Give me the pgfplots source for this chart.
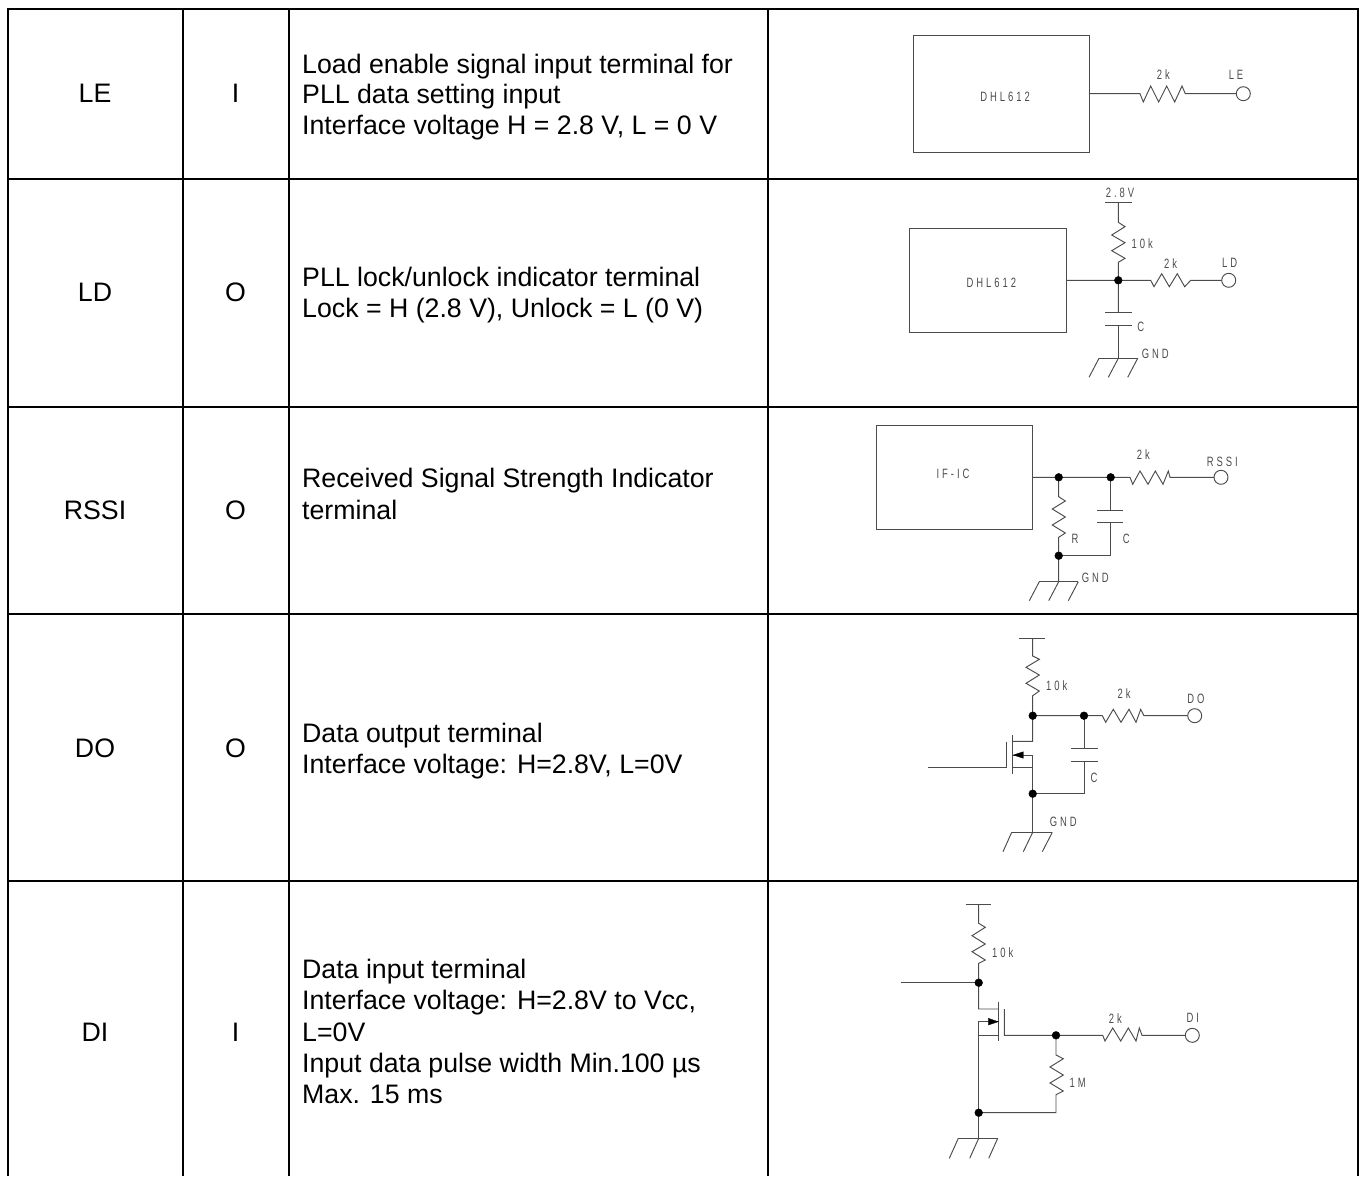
\documentclass[border=0pt]{standalone}
\usepackage{fontspec}
\setmainfont{Liberation Sans}
\newfontfamily\cad[FakeStretch=0.7,LetterSpace=22]{Liberation Sans}
\usepackage{pgfplots}
\pgfplotsset{compat=1.18}
\definecolor{wirecol}{gray}{0.3}
\pgfplotsset{
  grid line/.style={black,line width=2pt,line cap=rect},
  wire/.style={wirecol,line width=0.95pt,line join=miter},
  dot/.style={only marks,mark=*,mark size=3.9pt,mark options={fill=black,draw=black}},
  term/.style={only marks,mark=*,mark size=7pt,mark options={fill=white,draw=wirecol,line width=0.95pt}},
  head/.style={black,fill=black,line width=0.3pt},
}
\newcommand{\wire}[1]{\addplot[wire] coordinates {#1};}
\newcommand{\cell}[3]{\node[anchor=base west,inner sep=0pt,font=\fontsize{26.72}{31}\selectfont,text=black] at (axis cs:#1,#2) {#3};}
\newcommand{\pin}[3]{\node[anchor=base,inner sep=0pt,font=\fontsize{26.72}{31}\selectfont,text=black] at (axis cs:#1,#2) {#3};}
\newcommand{\tag}[3]{\node[inner sep=0pt,font=\cad\fontsize{13.5}{14}\selectfont,text=wirecol] at (axis cs:#1,#2) {#3};}
\begin{document}
\begin{tikzpicture}
\path[use as bounding box] (0,0) rectangle (1360pt,1176pt);
\begin{axis}[
    width=1360pt, height=1176pt, scale only axis,
    xmin=0, xmax=1360, ymin=0, ymax=1176,
    y dir=reverse, hide axis, clip=false,
]
% table rules
\addplot[grid line] coordinates {(8,9)(1358,9)};
\addplot[grid line] coordinates {(8,179)(1358,179)};
\addplot[grid line] coordinates {(8,407)(1358,407)};
\addplot[grid line] coordinates {(8,614)(1358,614)};
\addplot[grid line] coordinates {(8,881)(1358,881)};
\addplot[grid line] coordinates {(8,9)(8,1175)};
\addplot[grid line] coordinates {(183,9)(183,1175)};
\addplot[grid line] coordinates {(289,9)(289,1175)};
\addplot[grid line] coordinates {(768,9)(768,1175)};
\addplot[grid line] coordinates {(1358,9)(1358,1175)};

% first two columns
\pin{95}{102.5}{LE}      \pin{235.5}{102.5}{I}
\pin{95}{301.5}{LD}      \pin{235.5}{301.5}{O}
\pin{95}{519.5}{RSSI}    \pin{235.5}{519.5}{O}
\pin{95}{757.5}{DO}      \pin{235.5}{757.5}{O}
\pin{95}{1041.5}{DI}     \pin{235.5}{1041.5}{I}

% descriptions
\cell{302}{73}{Load enable signal input terminal for}
\cell{302}{103.5}{PLL data setting input}
\cell{302}{134}{Interface voltage H = 2.8 V, L = 0 V}
\cell{302}{286.5}{PLL lock/unlock indicator terminal}
\cell{302}{317.5}{Lock = H (2.8 V), Unlock = L (0 V)}
\cell{302}{487.5}{Received Signal Strength Indicator}
\cell{302}{519}{terminal}
\cell{302}{742}{Data output terminal}
\cell{302}{773}{Interface voltage: H=2.8V, L=0V}
\cell{302}{978.5}{Data input terminal}
\cell{302}{1009.5}{Interface voltage: H=2.8V to Vcc,}
\cell{302}{1041}{L=0V}
\cell{302}{1072}{Input data pulse width Min.100 µs}
\cell{302}{1103}{Max. 15 ms}

% LE circuit
\wire{(913,35.3)(1089.3,35.3)(1089.3,152.7)(913,152.7)(913,35.3)}
\wire{(1089.3,93.7)(1140,93.7)(1143.3,102)(1150.7,86)(1158.7,102)(1166.7,86)(1174.7,102)(1182,86)(1185.3,93.7)(1236,93.7)}
\addplot[term] coordinates {(1243.3,93.7)};
\tag{1005}{97}{DHL612}
\tag{1163.3}{75}{2k}
\tag{1236}{75}{LE}

% LD circuit
\wire{(909.3,228.3)(1066.3,228.3)(1066.3,332.3)(909.3,332.3)(909.3,228.3)}
\wire{(1066.3,280.3)(1150.7,280.3)(1154,286.7)(1161.7,273.7)(1169.3,286.7)(1177.3,273.7)(1184.7,286.7)(1190.7,280.3)(1222,280.3)}
\addplot[term] coordinates {(1228.7,280.3)};
\wire{(1105,202.3)(1131.7,202.3)}
\wire{(1118.3,202.3)(1118.3,222.3)(1125,226.7)(1111.7,235)(1125,242.7)(1111.7,250.7)(1125,258.3)(1118.3,262.3)(1118.3,312)}
\wire{(1105,312)(1131.7,312)}
\wire{(1105,325.3)(1131.7,325.3)}
\wire{(1118.3,325.3)(1118.3,358.3)}
\wire{(1099,358.3)(1137.7,358.3)}
\wire{(1099,358.3)(1089,377.3)}
\wire{(1118.3,358.3)(1108.3,377.3)}
\wire{(1137.7,358.3)(1127.7,377.3)}
\addplot[dot] coordinates {(1118.3,280.3)};
\tag{991.3}{283.3}{DHL612}
\tag{1120}{193.3}{2.8V}
\tag{1142.3}{244}{10k}
\tag{1170.7}{263.3}{2k}
\tag{1229.7}{263.3}{LD}
\tag{1140.7}{327}{C}
\tag{1155.3}{354}{GND}

% RSSI circuit
\wire{(876.7,425.3)(1032.7,425.3)(1032.7,529.7)(876.7,529.7)(876.7,425.3)}
\wire{(1032.7,477.3)(1130,477.3)(1132.7,484.3)(1140,471)(1148,484.3)(1155.3,471)(1163,484.3)(1168.3,471)(1170,477.3)(1214,477.3)}
\addplot[term] coordinates {(1221,477.3)};
\wire{(1058.7,477.3)(1058.7,496.7)(1065.3,501)(1052.3,509)(1065.3,517)(1052.3,525)(1065.3,533)(1058.7,537.3)(1058.7,581.7)}
\wire{(1110.7,477.3)(1110.7,510.3)}
\wire{(1097.3,510.3)(1123.3,510.3)}
\wire{(1097.3,522.7)(1123.3,522.7)}
\wire{(1110.7,522.7)(1110.7,555.7)(1058.7,555.7)}
\wire{(1039.3,581.7)(1078.3,581.7)}
\wire{(1039.3,581.7)(1029.3,600.7)}
\wire{(1058.7,581.7)(1048.7,600.7)}
\wire{(1078.3,581.7)(1068.3,600.7)}
\addplot[dot] coordinates {(1058.7,477.3)(1110.7,477.3)(1058.7,555.7)};
\tag{953}{474}{IF-IC}
\tag{1143.3}{455}{2k}
\tag{1222.3}{461.7}{RSSI}
\tag{1075}{539}{R}
\tag{1126.3}{539}{C}
\tag{1095.3}{577.7}{GND}

% DO circuit
\wire{(1019.3,638.3)(1045,638.3)}
\wire{(1032.7,638.3)(1032.7,656)(1039.3,659.3)(1026,667.3)(1039.3,675)(1026,683.3)(1039.3,691)(1032.7,695.7)(1032.7,741.3)(1012.7,741.3)}
\wire{(1032.7,715.7)(1102.3,715.7)(1105.7,722.3)(1113.3,709.3)(1121,722.3)(1129,709.3)(1136,722.3)(1140.7,709.3)(1144,715.7)(1187.7,715.7)}
\addplot[term] coordinates {(1194.7,715.7)};
\wire{(1084,715.7)(1084,748.3)}
\wire{(1071,748.3)(1097.7,748.3)}
\wire{(1071,761.3)(1097.7,761.3)}
\wire{(1084,761.3)(1084,793.7)(1032.7,793.7)}
\wire{(1012.7,735)(1012.7,774)}
\wire{(1006.7,741.7)(1006.7,767.3)(928,767.3)}
\wire{(1012.7,767.3)(1032.7,767.3)(1032.7,832.3)}
\wire{(1012.7,755)(1032.7,755)(1032.7,767.3)}
\addplot[head] coordinates {(1013.3,755)(1023.3,751.7)(1023.3,758.3)} -- cycle;
\wire{(1011.7,832.3)(1052.3,832.3)}
\wire{(1011.7,832.3)(1003,851.7)}
\wire{(1032.7,832.3)(1023.3,851.7)}
\wire{(1052.3,832.3)(1042.3,851.7)}
\addplot[dot] coordinates {(1032.7,715.7)(1084,715.7)(1032.7,793.7)};
\tag{1056.7}{686}{10k}
\tag{1124}{694}{2k}
\tag{1196}{699}{DO}
\tag{1094}{777.7}{C}
\tag{1063.3}{822.3}{GND}

% DI circuit
\wire{(965.7,904.3)(991.3,904.3)}
\wire{(978.7,904.3)(978.7,923.3)(985.3,927.3)(972,935.7)(985.3,944)(972,951.7)(985.3,960)(978.7,963.3)(978.7,1009)(998.3,1009)}
\wire{(900.7,982.7)(978.7,982.7)}
\wire{(998.3,1002.3)(998.3,1041)}
\wire{(1004.3,1009)(1004.3,1035.3)(1102.7,1035.3)(1105,1041)(1112.7,1028)(1120.7,1041)(1128.3,1028)(1136,1041)(1139.3,1028)(1142,1035.3)(1185.5,1035.3)}
\addplot[term] coordinates {(1192.3,1035.3)};
\wire{(998.3,1035.7)(978.7,1035.7)}
\wire{(998.3,1021.7)(978.7,1021.7)(978.7,1138.3)}
\addplot[head] coordinates {(998.3,1021.7)(988.3,1018.3)(988.3,1025)} -- cycle;
\wire{(1056,1035.3)(1056,1055)(1063.3,1058.7)(1050,1067)(1063.3,1075)(1050,1083)(1063.3,1091)(1056,1094.7)(1056,1112.7)(978.7,1112.7)}
\wire{(958.3,1138.3)(997.7,1138.3)}
\wire{(958.3,1138.3)(949.3,1158.3)}
\wire{(978.7,1138.3)(969.7,1158.3)}
\wire{(997.7,1138.3)(988.7,1158.3)}
\addplot[dot] coordinates {(978.7,982.7)(1056,1035.3)(978.7,1112.7)};
\tag{1002.7}{953}{10k}
\tag{1115.3}{1018.3}{2k}
\tag{1192.7}{1018.3}{DI}
\tag{1077.7}{1082.7}{1M}
\end{axis}
\end{tikzpicture}
\end{document}
